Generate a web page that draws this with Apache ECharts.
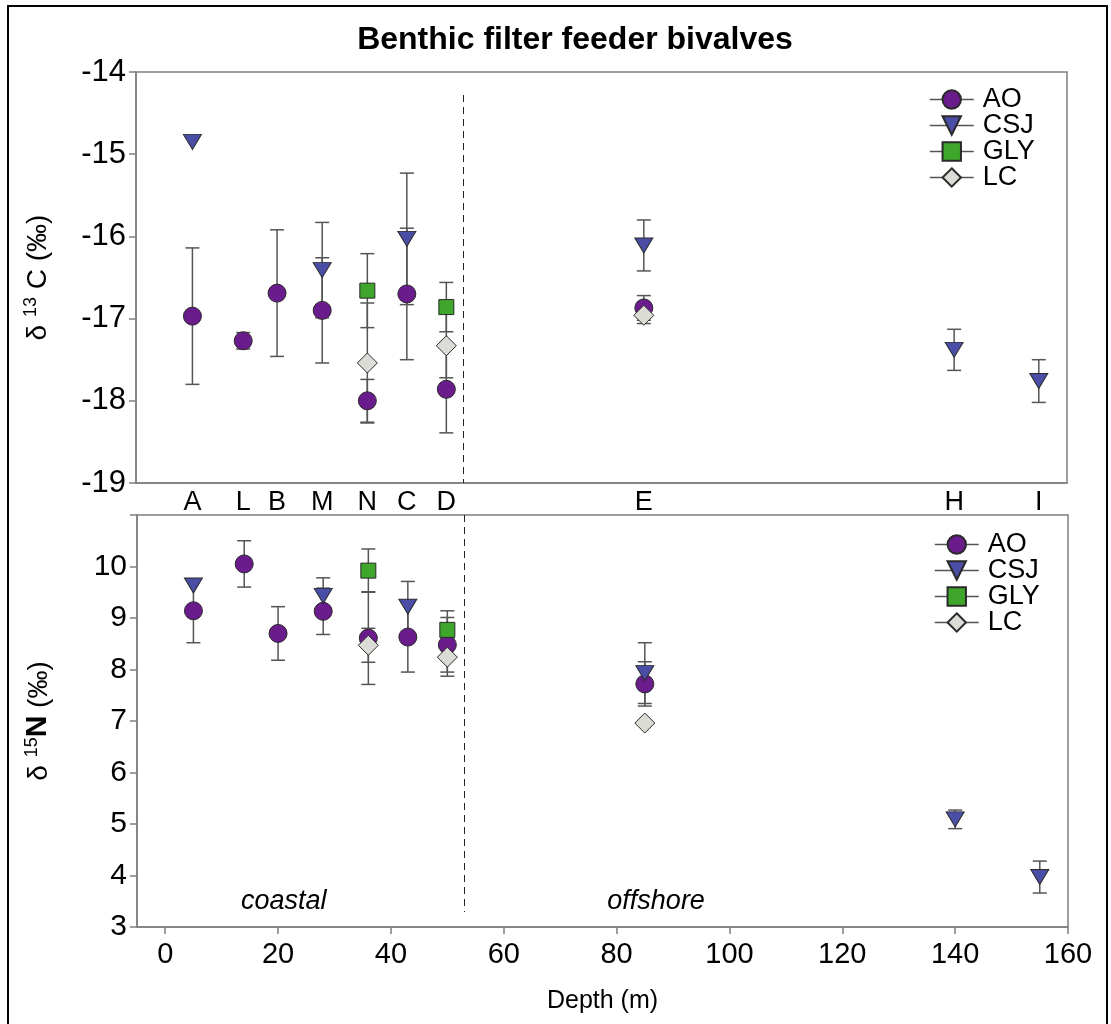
<!DOCTYPE html>
<html><head><meta charset="utf-8">
<script src="https://cdn.jsdelivr.net/npm/echarts@6/dist/echarts.min.js"></script>
<style>html,body{margin:0;padding:0;background:#fff}#c{width:1111px;height:1024px}</style>
</head><body><div id="c"></div>
<script>
// ---------- data ----------
const sites  = ['A','L','B','M','N','C','D','E','H','I'];
const depths = [5, 14, 20, 28, 36, 43, 50, 85, 140, 155];
const xTicks = [0, 20, 40, 60, 80, 100, 120, 140, 160];
const boundaryDepth = 53;
const zoneNames = ['coastal', 'offshore'];
const zoneDepths = [21, 87];

// δ13C (‰) means and SD, per site (null = not sampled)
const aoC    = [-16.97, -17.27, -16.69, -16.90, -18.00, -16.70, -17.86, -16.87, null, null];
const aoCsd  = [0.83, 0.10, 0.77, 0.64, 0.26, 0.80, 0.53, 0.15, null, null];
const csjC   = [-14.85, null, null, -16.41, null, -16.03, null, -16.11, -17.38, -17.76];
const csjCsd = [0, null, null, 0.58, null, 0.80, null, 0.31, 0.25, 0.26];
const glyC   = [null, null, null, null, -16.66, null, -16.86, null, null, null];
const glyCsd = [null, null, null, null, 0.45, null, 0.30, null, null, null];
const lcC    = [null, null, null, null, -17.54, null, -17.33, -16.96, null, null];
const lcCsd  = [null, null, null, null, 0.73, null, 0.39, 0.10, null, null];

// δ15N (‰) means and SD, per site
const aoN    = [9.14, 10.05, 8.70, 9.13, 8.61, 8.63, 8.48, 7.72, null, null];
const aoNsd  = [0.62, 0.45, 0.52, 0.45, 0.90, 0.68, 0.53, 0.43, null, null];
const csjN   = [9.63, null, null, 9.43, null, 9.22, null, 7.93, 5.09, 3.97];
const csjNsd = [0, null, null, 0.35, null, 0.49, null, 0.59, 0.18, 0.31];
const glyN   = [null, null, null, null, 9.92, null, 8.77, null, null, null];
const glyNsd = [null, null, null, null, 0.42, null, 0.37, null, null, null];
const lcN    = [null, null, null, null, 8.47, null, 8.24, 6.96, null, null];
const lcNsd  = [null, null, null, null, 0.33, null, 0.37, 0, null, null];

const groups = ['AO', 'CSJ', 'GLY', 'LC'];

// ---------- styles ----------
const FONT = 'Liberation Sans, Arial, sans-serif';
const AXC = '#7f7f7f';
const styles = {
  AO:  {symbol: 'circle',   size: 18,       rotate: 0,   color: '#6a1b8c'},
  CSJ: {symbol: 'triangle', size: [18, 15], rotate: 180, color: '#4a4ea6'},
  GLY: {symbol: 'rect',     size: 15,       rotate: 0,   color: '#3fa62c'},
  LC:  {symbol: 'diamond',  size: [20, 20], rotate: 0,   color: '#dcdcd6'}
};

function pts(vals) {
  return depths.map((d, i) => vals[i] == null ? null : [d, vals[i]]).filter(Boolean);
}
function errPts(vals, sds) {
  return depths.map((d, i) => (vals[i] == null || !sds[i]) ? null : [d, vals[i], sds[i]]).filter(Boolean);
}
function errSeries(vals, sds, gi) {
  return {
    type: 'custom', xAxisIndex: gi, yAxisIndex: gi, z: 1, silent: true, animation: false,
    encode: {x: 0, y: 1},
    data: errPts(vals, sds),
    renderItem(params, api) {
      const x = api.value(0), y = api.value(1), s = api.value(2);
      const t = api.coord([x, y + s]), b = api.coord([x, y - s]);
      const hw = 7;
      const st = {stroke: '#555', lineWidth: 1.5};
      return {type: 'group', children: [
        {type: 'line', shape: {x1: t[0], y1: t[1], x2: b[0], y2: b[1]}, style: st},
        {type: 'line', shape: {x1: t[0] - hw, y1: t[1], x2: t[0] + hw, y2: t[1]}, style: st},
        {type: 'line', shape: {x1: b[0] - hw, y1: b[1], x2: b[0] + hw, y2: b[1]}, style: st}
      ]};
    }
  };
}
function markSeries(name, vals, gi) {
  const s = styles[name];
  return {
    type: 'line', name, xAxisIndex: gi, yAxisIndex: gi, z: 3, animation: false,
    data: pts(vals), symbol: s.symbol, symbolSize: s.size, symbolRotate: s.rotate,
    showSymbol: true, lineStyle: {width: 0, opacity: 0},
    itemStyle: {color: s.color, borderColor: '#2a2a2a', borderWidth: 1},
    emphasis: {disabled: true}
  };
}

const cVals = [aoC, csjC, glyC, lcC], cSds = [aoCsd, csjCsd, glyCsd, lcCsd];
const nVals = [aoN, csjN, glyN, lcN], nSds = [aoNsd, csjNsd, glyNsd, lcNsd];

const series = [];
groups.forEach((g, i) => series.push(errSeries(cVals[i], cSds[i], 0)));
groups.forEach((g, i) => series.push(errSeries(nVals[i], nSds[i], 1)));
groups.forEach((g, i) => series.push(markSeries(g, cVals[i], 0)));
groups.forEach((g, i) => series.push(markSeries(g, nVals[i], 1)));

const dash = {silent: true, symbol: 'none', label: {show: false},
  lineStyle: {type: [7, 5], color: '#222', width: 1}, emphasis: {disabled: true}};
series.push({type: 'scatter', xAxisIndex: 0, yAxisIndex: 0, data: [], symbolSize: 0,
  markLine: Object.assign({data: [[{coord: [boundaryDepth, -14.28]}, {coord: [boundaryDepth, -19]}]]}, dash)});
series.push({type: 'scatter', xAxisIndex: 1, yAxisIndex: 1, symbolSize: 0, silent: true,
  itemStyle: {opacity: 1},
  data: zoneNames.map((n, i) => ({name: n, value: [zoneDepths[i], 3.5]})),
  label: {show: true, position: 'inside', formatter: '{b}', fontFamily: FONT, fontSize: 27,
    fontStyle: 'italic', color: '#000', opacity: 1},
  markLine: Object.assign({data: [[{coord: [boundaryDepth, 11]}, {coord: [boundaryDepth, 3.29]}]]}, dash)});

const legendBase = {
  orient: 'vertical', itemWidth: 44, itemHeight: 23, itemGap: -1, selectedMode: false,
  data: groups,
  textStyle: {fontFamily: FONT, fontSize: 27, color: '#000', padding: [0, 0, 0, 4]},
  lineStyle: {color: '#555', width: 1.5, opacity: 1, type: 'solid'}
};

const axisLineStyle = {show: true, onZero: false, lineStyle: {color: AXC, width: 1.5}};
const option = {
  backgroundColor: '#fff',
  animation: false,
  title: {text: 'Benthic filter feeder bivalves', left: 570, top: 19, textAlign: 'center',
    textStyle: {fontFamily: FONT, fontSize: 32, fontWeight: 'bold', color: '#000'}},
  graphic: [{type: 'rect', shape: {x: 8, y: 6, width: 1099, height: 1030},
    style: {fill: 'none', stroke: '#000', lineWidth: 2}, silent: true}],
  legend: [
    Object.assign({left: 924, top: 81}, legendBase),
    Object.assign({left: 929, top: 526}, legendBase)
  ],
  grid: [
    {left: 136, right: 44, top: 72, height: 411, show: true, borderColor: AXC, borderWidth: 1.5},
    {left: 137, right: 43, top: 515, height: 412, show: true, borderColor: AXC, borderWidth: 1.5}
  ],
  xAxis: [
    {type: 'value', gridIndex: 0, min: -5, max: 160, axisLine: axisLineStyle,
      axisTick: {show: false}, splitLine: {show: false},
      axisLabel: {customValues: depths, margin: 6, fontFamily: FONT, fontSize: 27, color: '#000',
        formatter: v => sites[depths.indexOf(v)]}},
    {type: 'value', gridIndex: 1, min: -5, max: 160, axisLine: axisLineStyle,
      axisTick: {customValues: xTicks, length: 7, lineStyle: {color: AXC, width: 1.5}},
      splitLine: {show: false},
      axisLabel: {customValues: xTicks, margin: 13, fontFamily: FONT, fontSize: 29, color: '#000'},
      name: 'Depth (m)', nameLocation: 'middle', nameGap: 62,
      nameTextStyle: {fontFamily: FONT, fontSize: 25, color: '#000'}}
  ],
  yAxis: [
    {type: 'value', gridIndex: 0, min: -19, max: -14, interval: 1, axisLine: axisLineStyle,
      axisTick: {length: 7, lineStyle: {color: AXC, width: 1.5}}, splitLine: {show: false},
      axisLabel: {margin: 10, fontFamily: FONT, fontSize: 31, color: '#000'},
      name: '{d|δ }{s|13}{c| C (‰)}', nameLocation: 'middle', nameGap: 84,
      nameTextStyle: {fontFamily: FONT, color: '#000', rich: {
        d: {fontFamily: FONT, fontSize: 28, color: '#000', verticalAlign: 'bottom', lineHeight: 30},
        s: {fontFamily: FONT, fontSize: 18, color: '#000', verticalAlign: 'top', lineHeight: 30},
        c: {fontFamily: FONT, fontSize: 28, color: '#000', verticalAlign: 'bottom', lineHeight: 30}}}},
    {type: 'value', gridIndex: 1, min: 3, max: 11, interval: 1, axisLine: axisLineStyle,
      axisTick: {length: 7, lineStyle: {color: AXC, width: 1.5}}, splitLine: {show: false},
      axisLabel: {margin: 10, fontFamily: FONT, fontSize: 30, color: '#000',
        formatter: v => v > 10 ? '' : String(v)},
      name: '{d|δ }{s|15}{n|N}{c| (‰)}', nameLocation: 'middle', nameGap: 84,
      nameTextStyle: {fontFamily: FONT, color: '#000', rich: {
        d: {fontFamily: FONT, fontSize: 28, color: '#000', verticalAlign: 'bottom', lineHeight: 30},
        s: {fontFamily: FONT, fontSize: 18, color: '#000', verticalAlign: 'top', lineHeight: 30},
        n: {fontFamily: FONT, fontSize: 30, fontWeight: 'bold', color: '#000', verticalAlign: 'bottom', lineHeight: 30},
        c: {fontFamily: FONT, fontSize: 28, color: '#000', verticalAlign: 'bottom', lineHeight: 30}}}}
  ],
  series
};
const chart = echarts.init(document.getElementById('c'), null, {renderer: 'canvas'});
chart.setOption(option);
</script></body></html>
